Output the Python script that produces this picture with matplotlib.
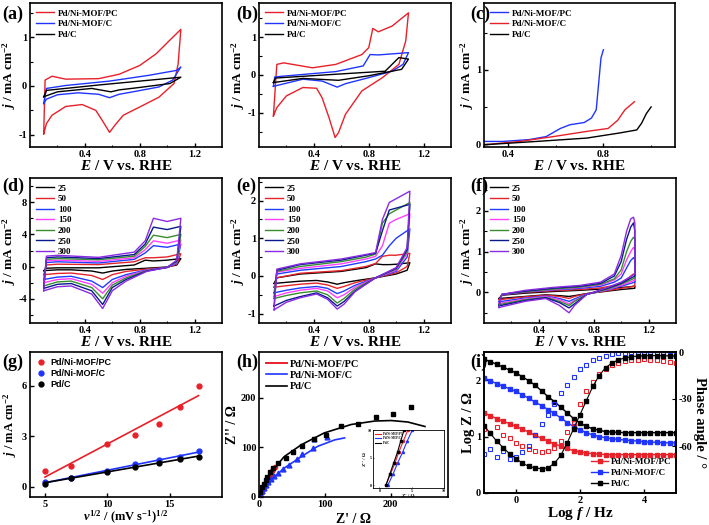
import numpy as np
import matplotlib
matplotlib.use('Agg')
import matplotlib.pyplot as plt

plt.rcParams['font.family'] = ['Liberation Serif', 'DejaVu Serif']
plt.rcParams['font.weight'] = 'bold'
plt.rcParams['axes.labelweight'] = 'bold'
plt.rcParams['mathtext.fontset'] = 'custom'
plt.rcParams['mathtext.rm'] = 'Liberation Serif:bold'
plt.rcParams['mathtext.it'] = 'Liberation Serif:italic:bold'
plt.rcParams['mathtext.bf'] = 'Liberation Serif:bold'
plt.rcParams['axes.unicode_minus'] = False
plt.rcParams['axes.linewidth'] = 1.2
plt.rcParams['xtick.labelsize'] = 7.5
plt.rcParams['ytick.labelsize'] = 7.5

RED = '#e8202a'
BLUE = '#1f35ff'
RATE_COLORS = ['black', '#e3242b', '#1f3cff', '#ff40ff', '#3a8d2f', '#0a1a8a', '#8a2be2']

# ---- (a) CV in N2 ----
a_pc_E = [0.10, 0.11, 0.16, 0.26, 0.50, 0.65, 0.80, 0.92, 1.02, 1.10, 1.08, 1.05, 0.94, 0.80, 0.68, 0.62, 0.58, 0.53, 0.48, 0.38, 0.26, 0.16, 0.12, 0.10]
a_pc_j = [-0.98, 0.12, 0.20, 0.14, 0.15, 0.24, 0.42, 0.66, 0.94, 1.16, 0.45, 0.05, -0.23, -0.43, -0.60, -0.80, -0.95, -0.72, -0.50, -0.38, -0.42, -0.60, -0.77, -0.98]
a_c_E = [0.10, 0.12, 0.26, 0.58, 0.87, 1.07, 1.10, 1.04, 0.94, 0.75, 0.65, 0.58, 0.50, 0.35, 0.20, 0.12, 0.10]
a_c_j = [-0.36, -0.05, 0.01, 0.10, 0.22, 0.32, 0.39, 0.12, -0.02, -0.12, -0.17, -0.24, -0.17, -0.14, -0.18, -0.27, -0.36]
a_pd_E = [0.10, 0.12, 0.50, 1.10, 1.02, 0.80, 0.65, 0.59, 0.45, 0.20, 0.10]
a_pd_j = [-0.22, -0.09, 0.02, 0.18, 0.05, -0.03, -0.08, -0.12, -0.05, -0.12, -0.22]

# ---- (b) CV in ethanol ----
b_pc_E = [0.105, 0.13, 0.18, 0.39, 0.56, 0.75, 0.80, 0.83, 0.87, 0.97, 1.09, 1.07, 1.02, 0.90, 0.75, 0.63, 0.58, 0.555, 0.51, 0.46, 0.42, 0.32, 0.20, 0.13, 0.105]
b_pc_j = [-1.08, 0.28, 0.32, 0.19, 0.28, 0.54, 0.72, 1.23, 1.14, 1.29, 1.64, 0.90, 0.28, -0.07, -0.42, -1.04, -1.52, -1.65, -1.12, -0.60, -0.35, -0.33, -0.55, -0.86, -1.08]
b_c_E = [0.105, 0.115, 0.56, 0.76, 0.81, 0.87, 1.09, 1.05, 0.97, 0.80, 0.63, 0.57, 0.46, 0.32, 0.105]
b_c_j = [-0.30, -0.05, 0.09, 0.24, 0.54, 0.53, 0.59, 0.28, 0.10, -0.07, -0.23, -0.32, -0.16, -0.11, -0.30]
b_pd_E = [0.105, 0.12, 0.56, 0.92, 1.02, 1.09, 1.04, 0.80, 0.58, 0.32, 0.105]
b_pd_j = [-0.20, -0.08, 0.02, 0.10, 0.46, 0.42, 0.15, -0.02, -0.14, -0.09, -0.20]

# ---- (c) LSV ----
c_pc_E = [0.30, 0.38, 0.49, 0.56, 0.62, 0.66, 0.72, 0.75, 0.77, 0.78, 0.79, 0.80]
c_pc_j = [0.035, 0.035, 0.06, 0.10, 0.21, 0.26, 0.29, 0.35, 0.46, 0.81, 1.16, 1.27]
c_c_E = [0.30, 0.45, 0.59, 0.73, 0.82, 0.86, 0.89, 0.93]
c_c_j = [-0.01, 0.035, 0.10, 0.17, 0.21, 0.32, 0.46, 0.57]
c_pd_E = [0.30, 0.52, 0.73, 0.87, 0.94, 0.96, 0.98, 1.00]
c_pd_j = [-0.01, 0.035, 0.08, 0.15, 0.19, 0.28, 0.41, 0.50]

# ---- (d)(e)(f) scan-rate series ----
rates = ['25', '50', '100', '150', '200', '250', '300']

d_E = [0.10, 0.12, 0.20, 0.50, 0.76, 0.84, 0.90, 1.00, 1.10, 1.07, 1.00, 0.85, 0.70, 0.60, 0.53, 0.45, 0.30, 0.20, 0.10]
d_j = [
    [-0.5, -0.2, -0.15, -0.15, 0.2, 0.8, 0.7, 0.8, 1.0, 0.2, -0.05, -0.2, -0.35, -0.55, -0.8, -0.55, -0.4, -0.4, -0.5],
    [-1.0, 0.2, 0.3, 0.25, 0.6, 1.1, 1.1, 1.2, 1.6, 0.3, -0.1, -0.3, -0.6, -1.0, -1.6, -1.1, -0.8, -0.85, -1.0],
    [-1.6, 0.5, 0.6, 0.45, 0.9, 1.7, 2.6, 2.4, 2.8, 0.4, -0.1, -0.4, -1.0, -1.6, -2.6, -1.8, -1.2, -1.3, -1.6],
    [-2.0, 0.7, 0.8, 0.65, 1.1, 2.1, 3.2, 2.9, 3.3, 0.5, -0.1, -0.45, -1.2, -2.0, -3.3, -2.2, -1.5, -1.6, -2.0],
    [-2.4, 0.9, 1.0, 0.85, 1.3, 2.5, 3.9, 3.6, 4.0, 0.6, -0.1, -0.5, -1.4, -2.3, -4.0, -2.6, -1.8, -1.9, -2.4],
    [-2.7, 1.1, 1.2, 1.0, 1.5, 2.8, 4.9, 4.6, 5.0, 0.7, -0.1, -0.55, -1.6, -2.6, -4.7, -3.0, -2.1, -2.2, -2.7],
    [-3.0, 1.3, 1.4, 1.15, 1.8, 3.2, 6.0, 5.6, 6.0, 0.8, -0.1, -0.6, -1.8, -3.0, -5.2, -3.4, -2.4, -2.5, -3.0],
]

e_E = [0.11, 0.13, 0.30, 0.60, 0.78, 0.85, 0.90, 0.95, 1.00, 1.10, 1.08, 1.00, 0.85, 0.70, 0.62, 0.57, 0.50, 0.42, 0.30, 0.20, 0.11]
e_j = [
    [-0.2, -0.05, 0.05, 0.12, 0.22, 0.32, 0.30, 0.30, 0.31, 0.35, 0.15, 0.05, -0.05, -0.13, -0.18, -0.22, -0.16, -0.12, -0.14, -0.17, -0.2],
    [-0.3, -0.05, 0.07, 0.14, 0.25, 0.33, 0.52, 0.55, 0.55, 0.60, 0.25, 0.08, -0.05, -0.18, -0.28, -0.33, -0.24, -0.19, -0.22, -0.26, -0.3],
    [-0.45, 0.05, 0.15, 0.25, 0.38, 0.45, 0.55, 0.80, 1.00, 1.25, 0.50, 0.12, -0.05, -0.25, -0.40, -0.47, -0.33, -0.28, -0.32, -0.38, -0.45],
    [-0.55, 0.10, 0.20, 0.32, 0.45, 0.52, 0.80, 1.40, 1.50, 1.65, 0.60, 0.15, -0.05, -0.30, -0.50, -0.58, -0.40, -0.33, -0.38, -0.45, -0.55],
    [-0.6, 0.12, 0.25, 0.38, 0.50, 0.58, 1.40, 1.65, 1.75, 1.95, 0.65, 0.18, -0.05, -0.35, -0.60, -0.72, -0.50, -0.40, -0.45, -0.52, -0.6],
    [-0.8, 0.15, 0.30, 0.42, 0.55, 0.60, 1.20, 1.75, 1.80, 1.90, 0.70, 0.20, -0.05, -0.40, -0.68, -0.80, -0.58, -0.45, -0.55, -0.65, -0.8],
    [-0.9, 0.18, 0.32, 0.45, 0.57, 0.62, 1.50, 1.95, 2.05, 2.25, 0.75, 0.22, -0.05, -0.42, -0.75, -0.88, -0.62, -0.48, -0.58, -0.70, -0.9],
]

f_E = [0.11, 0.13, 0.30, 0.50, 0.70, 0.85, 0.95, 1.00, 1.04, 1.07, 1.09, 1.10, 1.10, 1.00, 0.90, 0.75, 0.66, 0.62, 0.55, 0.45, 0.30, 0.11]
f_j = [
    [-0.15, -0.07, -0.02, 0.02, 0.05, 0.08, 0.10, 0.12, 0.13, 0.14, 0.15, 0.15, 0.10, 0.07, 0.03, -0.03, -0.08, -0.10, -0.08, -0.06, -0.10, -0.15],
    [-0.18, -0.06, 0.00, 0.04, 0.07, 0.11, 0.17, 0.22, 0.30, 0.40, 0.45, 0.42, 0.15, 0.10, 0.04, -0.03, -0.10, -0.15, -0.10, -0.07, -0.11, -0.18],
    [-0.23, -0.06, 0.01, 0.06, 0.10, 0.15, 0.25, 0.35, 0.60, 0.78, 0.85, 0.80, 0.25, 0.15, 0.06, -0.04, -0.16, -0.22, -0.15, -0.09, -0.14, -0.23],
    [-0.27, -0.05, 0.02, 0.07, 0.12, 0.18, 0.30, 0.45, 0.80, 1.00, 1.10, 1.05, 0.30, 0.17, 0.07, -0.05, -0.20, -0.28, -0.18, -0.10, -0.16, -0.27],
    [-0.30, -0.05, 0.02, 0.08, 0.13, 0.20, 0.33, 0.55, 1.00, 1.25, 1.35, 1.30, 0.35, 0.20, 0.08, -0.05, -0.22, -0.32, -0.22, -0.12, -0.18, -0.30],
    [-0.33, -0.05, 0.03, 0.10, 0.15, 0.22, 0.40, 0.75, 1.30, 1.60, 1.70, 1.50, 0.40, 0.22, 0.10, -0.05, -0.28, -0.38, -0.25, -0.13, -0.20, -0.33],
    [-0.37, -0.05, 0.05, 0.12, 0.17, 0.25, 0.45, 0.90, 1.50, 1.80, 1.84, 1.70, 0.45, 0.25, 0.12, -0.05, -0.32, -0.50, -0.32, -0.15, -0.22, -0.37],
]

# ---- (g) peak current vs sqrt(scan rate) ----
g_v = [5.0, 7.07, 10.0, 12.25, 14.14, 15.81, 17.32]
g_pc = [0.95, 1.25, 2.55, 3.10, 3.75, 4.75, 6.00]
g_c = [0.30, 0.50, 0.95, 1.35, 1.60, 1.80, 2.10]
g_pd = [0.20, 0.55, 0.90, 1.20, 1.40, 1.65, 1.80]

# ---- (h) Nyquist ----
h_pd_x = [1.5, 5, 7.6, 10, 12.7, 16.8, 22, 29.5, 40.7, 51, 66, 84, 102, 125, 150, 178, 204, 231]
h_pd_y = [10, 20, 27, 34, 41, 51, 58, 68, 79, 90, 103, 117, 125, 142, 148, 161, 168, 182]
h_pd_fit_x = [0, 5, 12.7, 25, 38, 64, 99, 140, 176, 201, 226, 252]
h_pd_fit_y = [0, 18, 37, 60, 81, 105, 129, 146, 153, 154, 151, 142]
h_c_x = [2, 4, 7, 10, 14, 18, 23, 29, 36, 45, 57, 66, 82, 83, 103]
h_c_y = [6, 12, 18, 24, 30, 36, 42, 49, 56, 65, 76, 86, 99, 117, 121]
h_c_fit_x = [0, 5, 12.7, 25, 38, 64, 89, 115, 130]
h_c_fit_y = [0, 11, 24, 42, 58, 81, 102, 115, 119]
h_pc_x = [1, 2, 3, 4, 5, 6, 7, 8, 9, 10, 12, 14, 16, 18, 20, 22, 24]
h_pc_y = [2, 5, 8, 11, 14, 16, 19, 22, 25, 28, 33, 38, 43, 47, 52, 56, 60]
h_pc_fit_x = [0.5, 25]
h_pc_fit_y = [0, 61]
# inset (high-frequency region)
hin_pd_x = [1.0, 1.6, 2.2, 2.8, 3.3, 3.8]
hin_pd_y = [0, 2, 4, 6, 8, 10]
hin_pc_x = [1.0, 1.7, 2.4, 3.0, 3.7, 4.4]
hin_pc_y = [0, 2, 4, 6, 8, 10]
hin_c_x = [1.3, 2.1, 2.8, 3.6, 4.3, 5.1]
hin_c_y = [0, 2, 4, 6, 8, 10]

# ---- (i) Bode ----
i_logf = [-1.0, -0.8, -0.6, -0.4, -0.2, 0.0, 0.2, 0.4, 0.6, 0.8, 1.0, 1.2, 1.4, 1.6, 1.8, 2.0,
          2.2, 2.4, 2.6, 2.8, 3.0, 3.2, 3.4, 3.6, 3.8, 4.0, 4.2, 4.4, 4.6, 4.8, 5.0]
i_pd_z = [2.37, 2.33, 2.28, 2.23, 2.18, 2.13, 2.06, 1.99, 1.91, 1.81, 1.71, 1.62, 1.52, 1.42, 1.32, 1.24,
          1.18, 1.14, 1.11, 1.09, 1.08, 1.075, 1.07, 1.07, 1.07, 1.07, 1.07, 1.07, 1.07, 1.07, 1.07]
i_c_z = [2.04, 1.99, 1.94, 1.89, 1.85, 1.80, 1.74, 1.68, 1.61, 1.55, 1.48, 1.41, 1.33, 1.25, 1.18, 1.12,
         1.07, 1.03, 1.00, 0.98, 0.96, 0.95, 0.94, 0.93, 0.92, 0.91, 0.90, 0.90, 0.89, 0.89, 0.89]
i_pc_z = [1.42, 1.37, 1.32, 1.27, 1.23, 1.18, 1.13, 1.08, 1.02, 0.97, 0.92, 0.87, 0.83, 0.79, 0.75, 0.73,
          0.71, 0.70, 0.69, 0.68, 0.68, 0.68, 0.68, 0.68, 0.68, 0.68, 0.68, 0.68, 0.68, 0.68, 0.68]
i_pd_ph = [-47, -52, -57, -61, -65, -68, -71, -73, -74, -74.5, -74, -71, -66, -58, -49, -40,
           -31, -22, -15, -10, -7, -5, -3.8, -3, -2.6, -2.4, -2.3, -2.3, -2.4, -2.5, -2.6]
i_c_ph = [-65, -62, -67, -63, -68, -67, -64, -60, -53, -46, -40, -33, -26, -21, -16, -11,
          -8, -5, -3.8, -2.5, -1.5, -0.9, -0.5, -0.3, -0.3, -0.4, -0.6, -0.9, -1.2, -1.6, -2.1]
i_pc_ph = [-49, -52, -48, -53, -55, -58, -60, -62, -63.5, -64, -63, -61, -57, -51, -45, -33,
           -25, -19, -14, -11, -8.5, -7, -6, -5.2, -4.8, -4.7, -4.8, -5.2, -5.8, -6.5, -7.2]

fig = plt.figure(figsize=(7.09, 5.25), dpi=100)

cols = [30, 259, 484]
rows = [3, 178, 352]


def make_ax(c, r, w=192, h=144):
    return fig.add_axes([cols[c] / 709, 1 - (rows[r] + h) / 525, w / 709, h / 525])


def style(ax, xlim, ylim, xt, xmt, yt, ymt):
    ax.set_xlim(xlim)
    ax.set_ylim(ylim)
    ax.set_xticks(xt)
    ax.set_yticks(yt)
    if xmt:
        ax.set_xticks(xmt, minor=True)
    if ymt:
        ax.set_yticks(ymt, minor=True)
    ax.tick_params(which='major', direction='in', length=3, width=1, pad=2)
    ax.tick_params(which='minor', direction='in', length=1.8, width=0.8)


def cv_labels(ax):
    ax.set_xlabel(r'$E$ / V vs. RHE', fontsize=11, labelpad=0)
    ax.set_ylabel(r'$j$ / mA cm$^{-2}$', fontsize=9.5, labelpad=0)


E_TICKS = [0.4, 0.8, 1.2]
E_MINOR = [0.2, 0.6, 1.0]
leg_kw = dict(loc='upper left', frameon=False, fontsize=6.5, handlelength=2.0,
              labelspacing=0.25, borderaxespad=0.3, handletextpad=0.4)

# (a)
ax = make_ax(0, 0)
ax.plot(a_pc_E, a_pc_j, color=RED, lw=1.0, label='Pd/Ni-MOF/PC')
ax.plot(a_c_E, a_c_j, color=BLUE, lw=1.0, label='Pd/Ni-MOF/C')
ax.plot(a_pd_E, a_pd_j, color='black', lw=1.0, label='Pd/C')
style(ax, (0, 1.4), (-1.25, 1.7), E_TICKS, E_MINOR, [-1, 0, 1], [-0.5, 0.5, 1.5])
cv_labels(ax)
ax.legend(**leg_kw)

# (b)
ax = make_ax(1, 0)
ax.plot(b_pc_E, b_pc_j, color=RED, lw=1.0, label='Pd/Ni-MOF/PC')
ax.plot(b_c_E, b_c_j, color=BLUE, lw=1.0, label='Pd/Ni-MOF/C')
ax.plot(b_pd_E, b_pd_j, color='black', lw=1.0, label='Pd/C')
style(ax, (0, 1.4), (-1.9, 1.9), E_TICKS, E_MINOR, [-1, 0, 1], [-1.5, -0.5, 0.5, 1.5])
cv_labels(ax)
ax.legend(**leg_kw)

# (c)
ax = make_ax(2, 0, w=191)
ax.plot(c_pc_E, c_pc_j, color=BLUE, lw=1.0, label='Pd/Ni-MOF/PC')
ax.plot(c_c_E, c_c_j, color=RED, lw=1.0, label='Pd/Ni-MOF/C')
ax.plot(c_pd_E, c_pd_j, color='black', lw=1.0, label='Pd/C')
style(ax, (0.3, 1.1), (-0.04, 1.9), [0.4, 0.8], [0.6, 1.0], [0, 1], [0.5, 1.5])
cv_labels(ax)
ax.legend(**leg_kw)

# (d)(e)(f)
for col, E, series, ylim, yt, ymt in [
        (0, d_E, d_j, (-7, 11), [-4, 0, 4, 8], [-6, -2, 2, 6, 10]),
        (1, e_E, e_j, (-1.25, 2.6), [-1, 0, 1, 2], [-0.5, 0.5, 1.5, 2.5]),
        (2, f_E, f_j, (-0.75, 2.8), [0, 1, 2], [-0.5, 0.5, 1.5, 2.5])]:
    ax = make_ax(col, 1, h=145)
    for k, j in enumerate(series):
        ax.plot(E, j, color=RATE_COLORS[k], lw=1.0, label=rates[k])
    style(ax, (0, 1.4), ylim, E_TICKS, E_MINOR, yt, ymt)
    cv_labels(ax)
    ax.legend(**leg_kw)

# (g)
ax = make_ax(0, 2, h=145)
for y, c, lab in [(g_pc, RED, 'Pd/Ni-MOF/PC'), (g_c, BLUE, 'Pd/Ni-MOF/C'), (g_pd, 'black', 'Pd/C')]:
    p = np.polyfit(g_v, y, 1)
    ax.plot([g_v[0], g_v[-1]], np.polyval(p, [g_v[0], g_v[-1]]), color=c, lw=1.2)
    ax.plot(g_v, y, 'o', color=c, ms=3.5, mec=c, label=lab)
style(ax, (3.8, 19.2), (-0.6, 8), [5, 10, 15], None, [0, 3, 6], None)
ax.set_xlabel(r'$\nu^{1/2}$ / (mV s$^{-1}$)$^{1/2}$', fontsize=9, labelpad=0)
ax.set_ylabel(r'$j$ / mA cm$^{-2}$', fontsize=9, labelpad=2)
ax.legend(loc='upper left', frameon=False, prop={'family': 'Liberation Sans', 'size': 6.5},
          handlelength=1.0, labelspacing=0.2, borderaxespad=0.3, handletextpad=0.6)

# (h)
ax = make_ax(1, 2, w=189, h=145)
ax.plot(h_pc_x, h_pc_y, 'o', color=RED, ms=3)
ax.plot(h_pc_fit_x, h_pc_fit_y, color=RED, lw=1.4, label='Pd/Ni-MOF/PC')
ax.plot(h_c_x, h_c_y, '^', color=BLUE, ms=3.5)
ax.plot(h_c_fit_x, h_c_fit_y, color=BLUE, lw=1.2, label='Pd/Ni-MOF/C')
ax.plot(h_pd_x, h_pd_y, 's', color='black', ms=3.5)
ax.plot(h_pd_fit_x, h_pd_fit_y, color='black', lw=1.2, label='Pd/C')
style(ax, (0, 287), (0, 292), [0, 100, 200], None, [0, 100, 200], None)
ax.set_xlabel("Z' / Ω", fontsize=10, labelpad=3)
ax.set_ylabel("Z'' / Ω", fontsize=10, labelpad=1)
ax.legend(loc='upper left', frameon=False, fontsize=7.5, handlelength=2.0,
          labelspacing=0.2, borderaxespad=0.3, handletextpad=0.3)

axi = fig.add_axes([373 / 709, 1 - 488 / 525, 71 / 709, 58 / 525])
axi.plot(hin_pc_x, hin_pc_y, 'o', color=RED, ms=1.5)
axi.plot(hin_pc_x, hin_pc_y, color=RED, lw=0.8, label='Pd/Ni-MOF/PC')
axi.plot(hin_c_x, hin_c_y, '^', color=BLUE, ms=1.5)
axi.plot(hin_c_x, hin_c_y, color=BLUE, lw=0.8, label='Pd/Ni-MOF/C')
axi.plot(hin_pd_x, hin_pd_y, 's', color='black', ms=1.5)
axi.plot(hin_pd_x, hin_pd_y, color='black', lw=0.8, label='Pd/C')
axi.set_xlim(-1, 10)
axi.set_ylim(-0.5, 10)
axi.set_xticks([0, 5, 10])
axi.set_yticks([0, 5, 10])
axi.tick_params(labelsize=3, length=1, pad=1, direction='in', width=0.5)
for s in axi.spines.values():
    s.set_linewidth(0.6)
axi.set_xlabel("Z' / Ω", fontsize=3.5, labelpad=0.5)
axi.set_ylabel("Z'' / Ω", fontsize=3.5, labelpad=0.5)
axi.legend(loc='upper left', frameon=False, fontsize=2.2, handlelength=2.0,
           labelspacing=0.2, borderaxespad=0.2)

# (i)
ax = make_ax(2, 2, h=141)
for z, c, lab in [(i_pc_z, RED, 'Pd/Ni-MOF/PC'),
                  (i_c_z, BLUE, 'Pd/Ni-MOF/C'),
                  (i_pd_z, 'black', 'Pd/C')]:
    ax.plot(i_logf, z, '-s', color=c, ms=2.5, lw=1.0, label=lab)
style(ax, (-1, 5), (0, 2.5), [0, 2, 4], None, [0, 1, 2], None)
ax.set_xlabel(r'Log $f$ / Hz', fontsize=11, labelpad=0)
ax.set_ylabel('Log Z / Ω', fontsize=10.5, labelpad=1)
ax.legend(loc='lower right', frameon=False, fontsize=6.5, handlelength=1.8,
          labelspacing=0.3, borderaxespad=0.15, handletextpad=0.3)
ax2 = ax.twinx()
ax2.plot(i_logf, i_pc_ph, 's', color=RED, ms=3.0, mfc='none', mew=0.8)
ax2.plot(i_logf, i_c_ph, 's', color=BLUE, ms=3.0, mfc='none', mew=0.8)
ax2.plot(i_logf, i_pd_ph, '-s', color='black', ms=2.2, lw=0.8)
ax2.set_ylim(-90, 0)
ax2.set_yticks([-60, -30, 0])
ax2.tick_params(direction='in', length=3, labelsize=7.5, pad=2)
ax2.set_ylabel('Phase angle / °', fontsize=10.5, rotation=270, labelpad=10)

# panel letters
for lab, x, y in [('(a)', 2, 14), ('(b)', 236, 14), ('(c)', 470, 14),
                  ('(d)', 2, 186), ('(e)', 236, 186), ('(f)', 470, 186),
                  ('(g)', 2, 362), ('(h)', 236, 362), ('(i)', 470, 362)]:
    fig.text(x / 709, 1 - y / 525, lab, fontsize=13, fontweight='bold', va='center', ha='left')

fig.savefig('out.png', dpi=100)
